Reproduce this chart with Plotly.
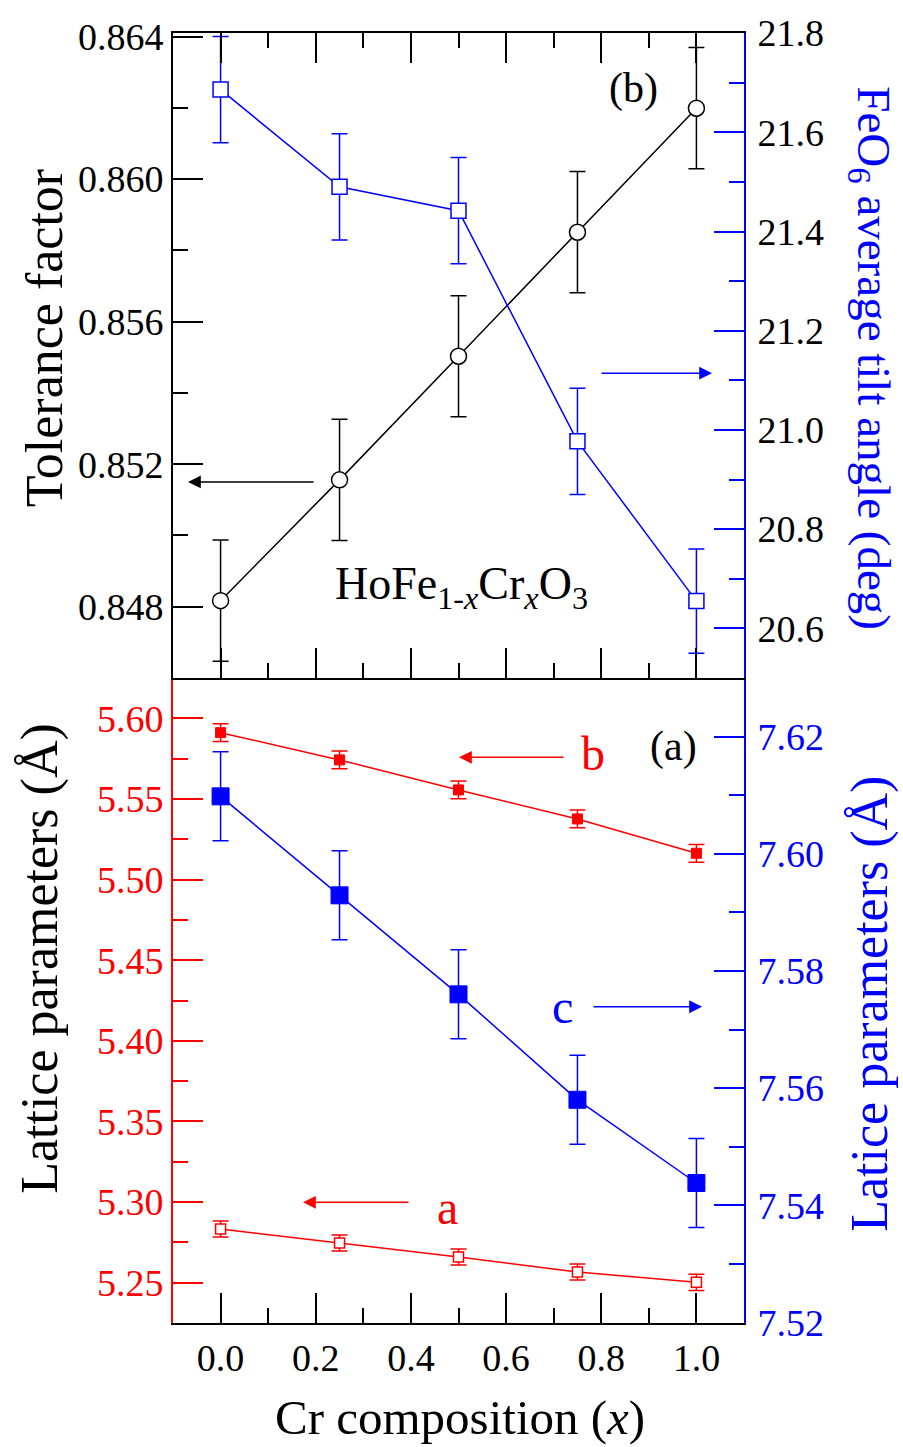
import plotly.graph_objects as go

# ---------------- data ----------------
x_comp = [0.0, 0.25, 0.5, 0.75, 1.0]

tolerance = [0.84817, 0.85156, 0.85503, 0.85851, 0.86199]
tolerance_err = [0.0017, 0.0017, 0.0017, 0.0017, 0.0017]

tilt_angle = [21.686, 21.490, 21.442, 20.977, 20.655]
tilt_err = [0.107, 0.107, 0.107, 0.107, 0.105]

lat_b = [5.5911, 5.5742, 5.5556, 5.5376, 5.5163]
lat_b_err = [0.0055, 0.0055, 0.0055, 0.0055, 0.0055]

lat_a = [5.2833, 5.2746, 5.2659, 5.2566, 5.2502]
lat_a_err = [0.005, 0.005, 0.005, 0.005, 0.005]

lat_c = [7.6098, 7.5929, 7.5760, 7.5580, 7.5438]
lat_c_err = [0.0076, 0.0076, 0.0076, 0.0076, 0.0076]

# ---------------- layout geometry ----------------
W, H = 903, 1447
ML, MR, MT, MB = 173, 159, 30, 124
PW = W - ML - MR
PH = H - MT - MB
FONT = "Liberation Serif"
RED = "#ff0000"
BLUE = "#0000ff"


def px(xp):
    return (xp - ML) / PW


def py(yp):
    return (H - MB - yp) / PH


fig = go.Figure()

# top panel: tolerance factor
fig.add_trace(go.Scatter(
    x=x_comp, y=tolerance, xaxis="x2", yaxis="y3", mode="lines+markers",
    line=dict(color="black", width=1.5),
    marker=dict(symbol="circle", size=16, color="white", line=dict(color="black", width=1.5)),
    error_y=dict(type="data", array=tolerance_err, color="black", thickness=1.5, width=8),
    showlegend=False))

# top panel: tilt angle
fig.add_trace(go.Scatter(
    x=x_comp, y=tilt_angle, xaxis="x2", yaxis="y4", mode="lines+markers",
    line=dict(color=BLUE, width=1.5),
    marker=dict(symbol="square", size=15, color="white", line=dict(color=BLUE, width=1.5)),
    error_y=dict(type="data", array=tilt_err, color=BLUE, thickness=1.5, width=8),
    showlegend=False))

# bottom panel: b
fig.add_trace(go.Scatter(
    x=x_comp, y=lat_b, xaxis="x", yaxis="y", mode="lines+markers",
    line=dict(color=RED, width=1.5),
    marker=dict(symbol="square", size=10, color=RED, line=dict(color=RED, width=1)),
    error_y=dict(type="data", array=lat_b_err, color=RED, thickness=1.5, width=8),
    showlegend=False))

# bottom panel: a
fig.add_trace(go.Scatter(
    x=x_comp, y=lat_a, xaxis="x", yaxis="y", mode="lines+markers",
    line=dict(color=RED, width=1.5),
    marker=dict(symbol="square", size=10, color="white", line=dict(color=RED, width=1.5)),
    error_y=dict(type="data", array=lat_a_err, color=RED, thickness=1.5, width=8),
    showlegend=False))

# bottom panel: c
fig.add_trace(go.Scatter(
    x=x_comp, y=lat_c, xaxis="x", yaxis="y2", mode="lines+markers",
    line=dict(color=BLUE, width=1.5),
    marker=dict(symbol="square", size=17, color=BLUE, line=dict(color=BLUE, width=1)),
    error_y=dict(type="data", array=lat_c_err, color=BLUE, thickness=1.5, width=8),
    showlegend=False))


def yax(rng, tick0, dtick, mdtick, fmt, linecolor, fontcolor, **kw):
    d = dict(range=rng, tick0=tick0, dtick=dtick, tickformat=fmt,
             ticks="inside", ticklen=30, tickwidth=2, tickcolor=linecolor,
             showline=True, linecolor=linecolor, linewidth=2,
             showgrid=False, zeroline=False,
             tickfont=dict(family=FONT, size=38, color=fontcolor),
             minor=dict(tick0=tick0, dtick=mdtick, ticks="inside", ticklen=15,
                        tickwidth=2, tickcolor=linecolor, showgrid=False))
    d.update(kw)
    return d


xcommon = dict(range=[-0.1, 1.1], tick0=0, dtick=0.2, tickformat=".1f",
               ticks="inside", ticklen=30, tickwidth=2, tickcolor="black",
               showline=True, linecolor="black", linewidth=2,
               showgrid=False, zeroline=False,
               tickfont=dict(family=FONT, size=38, color="black"),
               minor=dict(tick0=0, dtick=0.1, ticks="inside", ticklen=15,
                          tickwidth=2, tickcolor="black", showgrid=False))

fig.update_layout(
    width=W, height=H,
    margin=dict(l=ML, r=MR, t=MT, b=MB),
    paper_bgcolor="white", plot_bgcolor="white",
    font=dict(family=FONT, color="black"),
    xaxis=dict(xcommon, domain=[0, 1], anchor="y"),
    xaxis2=dict(xcommon, domain=[0, 1], anchor="y3", matches="x",
                showticklabels=False, mirror="ticks"),
    yaxis=yax([5.225, 5.625], 5.0, 0.05, 0.025, ".2f", RED, RED,
              domain=[0, 0.5], anchor="x"),
    yaxis2=yax([7.5199, 7.63], 7.5, 0.02, 0.01, ".2f", BLUE, BLUE,
               overlaying="y", side="right", anchor="x", ticklabelstandoff=4),
    yaxis3=yax([0.846, 0.8641], 0.848, 0.004, 0.002, ".3f", "black", "black",
               domain=[0.5, 1], anchor="x2"),
    yaxis4=yax([20.5, 21.8001], 20.6, 0.2, 0.1, ".1f", BLUE, "black",
               overlaying="y3", side="right", anchor="x2", ticklabelstandoff=4),
)

ann = []


def text(xp, yp, s, size, color="black", angle=0):
    ann.append(dict(x=px(xp), y=py(yp), xref="paper", yref="paper", text=s,
                    showarrow=False, textangle=angle, xanchor="center", yanchor="middle",
                    font=dict(family=FONT, size=size, color=color)))


def arrow(x_tail, x_head, yp, color, head=2):
    ann.append(dict(x=px(x_head), y=py(yp), xref="paper", yref="paper", text="",
                    showarrow=True, ax=x_tail - x_head, ay=0, axref="pixel", ayref="pixel",
                    arrowhead=head, arrowsize=1.6, arrowwidth=1.6, arrowcolor=color,
                    standoff=0, startstandoff=0))


text(44, 336, "Tolerance factor", 52, angle=-90)
text(40, 958, "Lattice parameters (Å)", 52, angle=-90)
text(871, 356, "FeO<sub>6</sub> average tilt angle (deg)", 47, BLUE, angle=90)
text(870, 1003, "Latice parameters (Å)", 52, BLUE, angle=-90)
text(460, 1418, "Cr composition (<i>x</i>)", 49)
text(633, 86, "(b)", 42)
text(673, 745, "(a)", 42)
text(461, 585, "HoFe<sub>1-<i>x</i></sub>Cr<sub><i>x</i></sub>O<sub>3</sub>", 46)
text(593, 752, "b", 48, RED)
text(562, 1006, "c", 48, BLUE)
text(447, 1207, "a", 48, RED)

arrow(315, 188, 480, "black")
arrow(600, 712, 371, BLUE)
arrow(565, 459, 756, RED)
arrow(592, 702, 1006, BLUE)
arrow(410, 303, 1202, RED)

fig.update_layout(annotations=ann)

fig.write_html("out.html")
